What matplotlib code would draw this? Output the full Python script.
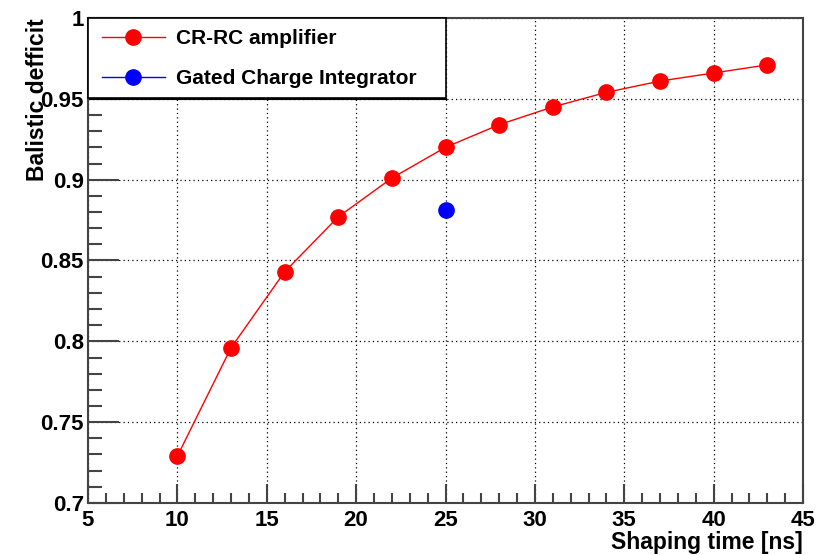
import numpy as np
import matplotlib.pyplot as plt
from matplotlib.ticker import MultipleLocator
from matplotlib.patches import Rectangle

plt.rcParams['font.family'] = ['Liberation Sans', 'DejaVu Sans']
plt.rcParams['font.weight'] = 'bold'

# CR-RC amplifier ballistic deficit vs shaping time
shaping_time = [10, 13, 16, 19, 22, 25, 28, 31, 34, 37, 40, 43]
crrc_deficit = [0.729, 0.796, 0.843, 0.877, 0.901, 0.920, 0.934, 0.945, 0.954, 0.961, 0.966, 0.971]

# Gated charge integrator, single point
gci_time = [25]
gci_deficit = [0.881]

W, H = 818, 555
fig = plt.figure(figsize=(W / 100, H / 100), dpi=100)
ax = fig.add_axes([88 / W, 52 / H, 715 / W, 485 / H])

ax.plot(shaping_time, crrc_deficit, color='red', lw=1, marker='o', ms=11,
        label='CR-RC amplifier', zorder=3)
ax.plot(gci_time, gci_deficit, color='blue', lw=1, marker='o', ms=11,
        label='Gated Charge Integrator', zorder=3)

ax.set_xlim(5, 45)
ax.set_ylim(0.7, 1.0)
ax.xaxis.set_major_locator(MultipleLocator(5))
ax.xaxis.set_minor_locator(MultipleLocator(1))
ax.yaxis.set_major_locator(MultipleLocator(0.05))
ax.yaxis.set_minor_locator(MultipleLocator(0.01))
ax.yaxis.set_major_formatter(plt.FuncFormatter(lambda v, p: f'{v:g}'))

ax.tick_params(which='both', direction='in', color='#444444', labelsize=16, width=1.5)
ax.tick_params(axis='x', which='major', length=14, pad=5)
ax.tick_params(axis='x', which='minor', length=7)
ax.tick_params(axis='y', which='major', length=22, pad=3)
ax.tick_params(axis='y', which='minor', length=10)

for s in ax.spines.values():
    s.set_color('#444444')
    s.set_linewidth(1.5)

ax.grid(True, which='major', ls=(0, (1, 2.5)), color='black', lw=0.9)

ax.set_xlabel('Shaping time [ns]', fontsize=16.5, fontweight='bold', loc='right')
ax.xaxis.set_label_coords(1.0, -0.058)
ax.set_ylabel('Balistic defficit', fontsize=16.5, fontweight='bold', loc='top')
ax.yaxis.set_label_coords(-0.055, 1.0)

# legend box drawn in figure pixels (ROOT style, with a small shadow at the bottom)
frame = Rectangle((88 / W, (H - 98) / H), 358 / W, 80 / H, transform=fig.transFigure,
                  facecolor='white', edgecolor='black', lw=1.2, zorder=5, clip_on=False)
ax.add_patch(frame)
ax.add_line(plt.Line2D([90 / W, 446 / W], [(H - 99) / H, (H - 99) / H],
                       transform=fig.transFigure, color='black', lw=1.5, zorder=5,
                       clip_on=False))

leg = ax.legend(loc='upper left', bbox_to_anchor=(102 / W, (H - 29) / H),
                bbox_transform=fig.transFigure, fontsize=15, frameon=False,
                borderaxespad=0, borderpad=0, handlelength=3.0, handletextpad=0.55,
                labelspacing=1.0)
leg.set_zorder(6)

fig.savefig('out.png', dpi=100)
